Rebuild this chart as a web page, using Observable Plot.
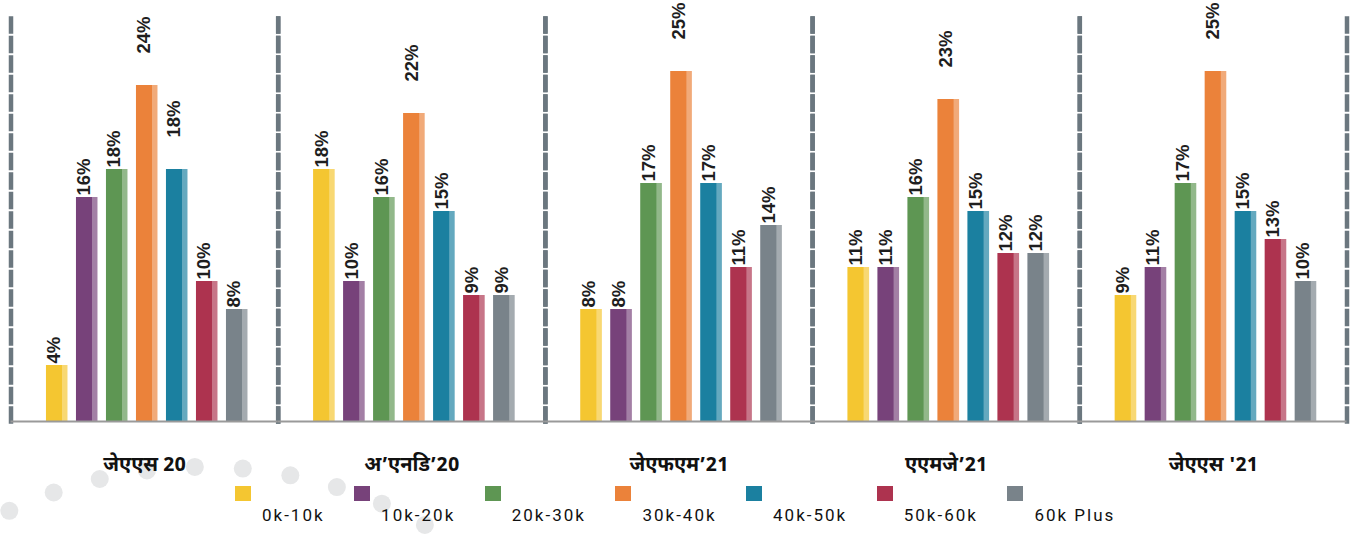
<!DOCTYPE html>
<html>
<head>
<meta charset="utf-8">
<script src="https://cdn.jsdelivr.net/npm/d3@7"></script>
<script src="https://cdn.jsdelivr.net/npm/@observablehq/plot@0.6"></script>
<style>
  body { margin: 0; background: #fff; }
  #wrap { position: relative; width: 1369px; height: 534px; overflow: hidden; background: #fff; }
  #deco { position: absolute; left: 0; top: 0; z-index: 0; }
  #chart { position: absolute; left: 0; top: 0; z-index: 1; }
  #legend { position: absolute; left: 235px; top: 480px; z-index: 2; display: flex; gap: 29.5px;
            font-family: Roboto, "Noto Sans", sans-serif; font-size: 17px; letter-spacing: 2px; color: #111; }
  .item { position: relative; height: 54px; padding-left: 27px; }
  .sw { position: absolute; left: 0; top: 6px; width: 16px; height: 15px; }
  .lb { margin-top: 25px; line-height: 20px; white-space: nowrap; }
</style>
</head>
<body>
<div id="wrap">
  <svg id="deco" width="1369" height="534"></svg>
  <div id="chart"></div>
  <div id="legend"></div>
</div>
<script>
// ---- data ----
const groups = ["जेएएस 20", "अ’एनडि’20", "जेएफएम’21", "एएमजे’21", "जेएएस '21"];
const series = ["0k-10k", "10k-20k", "20k-30k", "30k-40k", "40k-50k", "50k-60k", "60k Plus"];
const colors = ["#F4C631", "#77427A", "#5E9653", "#EB823A", "#1B80A0", "#AD334F", "#79838A"];
const jas20 = [4, 16, 18, 24, 18, 10, 8];
const ond20 = [18, 10, 16, 22, 15, 9, 9];
const jfm21 = [8, 8, 17, 25, 17, 11, 14];
const amj21 = [11, 11, 16, 23, 15, 12, 12];
const jas21 = [9, 11, 17, 25, 15, 13, 10];
const values = [jas20, ond20, jfm21, amj21, jas21];

const data = groups.flatMap((g, gi) => series.map((s, si) => ({group: g, series: s, value: values[gi][si]})));

// labels drawn higher above their bars in the original
const raised = d => d.series === "30k-40k" || (d.group === groups[0] && d.series === "40k-50k");

const labelOpts = {
  fx: "group", x: "series", y: "value", text: d => d.value + "%",
  rotate: -90, textAnchor: "start", lineAnchor: "middle", dx: -2.75,
  fontSize: 18.5, fontWeight: "bold", fontFamily: "'Liberation Sans', Arial, sans-serif", fill: "#1e1e1e"
};
const sepOpts = {stroke: "#6b777f", strokeWidth: 4.5, strokeDasharray: "13,6.5", insetTop: 17};

const chart = Plot.plot({
  width: 1369, height: 480,
  marginLeft: 10.5, marginRight: 22.5, marginTop: 1, marginBottom: 59,
  style: {background: "transparent", overflow: "visible"},
  fx: {domain: groups, padding: 0, label: null, round: false},
  x: {domain: series, axis: null, paddingInner: 0.2833, paddingOuter: 1.095, align: 0.54, round: false},
  y: {domain: [0, 30], axis: null},
  color: {domain: series, range: colors},
  marks: [
    Plot.frame({anchor: "left", ...sepOpts}),
    Plot.frame({anchor: "right", ...sepOpts}),
    Plot.barY(data, {fx: "group", x: "series", y: "value", fill: "series", fillOpacity: 0.68}),
    Plot.barY(data, {fx: "group", x: "series", y: "value", fill: "series", insetRight: 5.5}),
    Plot.ruleY([0], {stroke: "#9a9a9a", strokeWidth: 2}),
    Plot.text(data.filter(d => !raised(d)), {...labelOpts, dy: -2}),
    Plot.text(data.filter(raised), {...labelOpts, dy: -32}),
    Plot.axisFx({anchor: "bottom", tickSize: 0, tickPadding: 35, label: null,
      fontSize: 20, fontWeight: "bold", fill: "#111",
      fontFamily: "'Noto Sans Devanagari', 'Noto Sans', 'Lohit Devanagari', sans-serif"})
  ]
});
document.getElementById("chart").appendChild(chart);

// ---- legend ----
const legend = d3.select("#legend");
series.forEach((s, i) => {
  const it = legend.append("div").attr("class", "item");
  it.append("div").attr("class", "sw").style("background", colors[i]);
  it.append("div").attr("class", "lb").text(s);
});

// ---- decorative arc of light dots ----
const deco = d3.select("#deco");
for (let k = -1; k < 12; k++) {
  const a = (-25.5 + 6.1 * k) * Math.PI / 180;
  deco.append("circle")
    .attr("cx", 203.5 + 451 * Math.sin(a))
    .attr("cy", 917.9 - 451 * Math.cos(a))
    .attr("r", 9).attr("fill", "#e6e7e8");
}
</script>
</body>
</html>
